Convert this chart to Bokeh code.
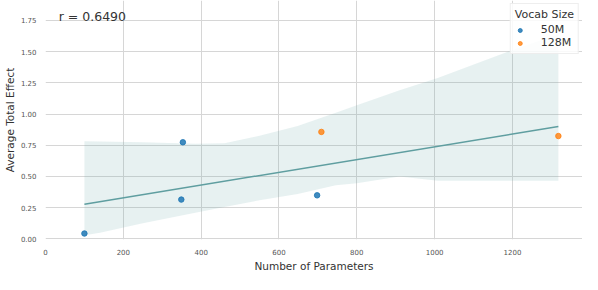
from bokeh.plotting import figure
from bokeh.models import Range1d, FixedTicker, Label, Legend, LegendItem, NumeralTickFormatter
from bokeh.embed import file_html
from bokeh.resources import INLINE
import numpy as np

# ---- data ----
params_50m = [100, 353, 349, 698]
effect_50m = [0.043, 0.774, 0.315, 0.349]
params_128m = [709, 1318]
effect_128m = [0.857, 0.824]

band_x = [100, 140, 250, 385, 460, 550, 648, 746, 800, 910, 1008, 1188, 1318]
band_upper = [0.783, 0.780, 0.775, 0.762, 0.766, 0.826, 0.905, 1.01, 1.07, 1.19, 1.29, 1.50, 1.64]
band_lower = [0.030, 0.050, 0.125, 0.210, 0.255, 0.310, 0.360, 0.430, 0.445, 0.500, 0.465, 0.465, 0.465]

x_ticks = [0, 200, 400, 600, 800, 1000, 1200]
y_ticks = [0.0, 0.25, 0.5, 0.75, 1.0, 1.25, 1.5, 1.75]
r_text = "r = 0.6490"

# regression from the data
all_x = np.array(params_50m + params_128m, dtype=float)
all_y = np.array(effect_50m + effect_128m, dtype=float)
slope, intercept = np.polyfit(all_x, all_y, 1)
line_x = [all_x.min(), all_x.max()]
line_y = [intercept + slope * v for v in line_x]

FONT = "DejaVu Sans"

p = figure(width=582, height=274, output_backend="svg", toolbar_location=None,
           x_range=Range1d(0, 1380), y_range=Range1d(-0.005, 1.91),
           min_border_left=30, min_border_right=0, min_border_top=0, min_border_bottom=21)
p.outline_line_color = None
p.background_fill_color = "white"

for ax in (p.xaxis, p.yaxis):
    ax.axis_line_color = None
    ax.major_tick_line_color = None
    ax.minor_tick_line_color = None
    ax.major_label_text_font = FONT
    ax.major_label_text_font_size = "7px"
    ax.major_label_text_color = "#555555"
    ax.axis_label_text_font = FONT
    ax.axis_label_text_font_size = "10.5px"
    ax.axis_label_text_font_style = "normal"
    ax.axis_label_text_color = "#333333"
    ax.axis_label_standoff = 2
    ax.major_label_standoff = 3

p.xaxis.ticker = FixedTicker(ticks=x_ticks)
p.yaxis.ticker = FixedTicker(ticks=y_ticks)
p.yaxis.formatter = NumeralTickFormatter(format="0.00")
p.xaxis.axis_label = "Number of Parameters"
p.yaxis.axis_label = "Average Total Effect"

p.xgrid.ticker = FixedTicker(ticks=x_ticks)
p.ygrid.ticker = FixedTicker(ticks=y_ticks)
p.grid.grid_line_color = "#d6d6d6"
p.grid.grid_line_width = 1

p.varea(x=band_x, y1=band_lower, y2=band_upper, fill_color="cadetblue", fill_alpha=0.15)
p.line(line_x, line_y, line_color="cadetblue", line_width=1.5)

r1 = p.scatter(params_50m, effect_50m, size=5.5, fill_color="#1f77b4", line_color="#1f77b4",
               fill_alpha=0.85, line_alpha=0.85)
r2 = p.scatter(params_128m, effect_128m, size=5.5, fill_color="#ff7f0e", line_color="#ff7f0e",
               fill_alpha=0.8, line_alpha=0.8)

p.add_layout(Label(x=34, y=1.72, text=r_text, text_font=FONT, text_font_size="12.5px",
                   text_color="#333333", text_baseline="bottom"))

legend = Legend(items=[LegendItem(label="50M", renderers=[r1]),
                       LegendItem(label="128M", renderers=[r2])],
                location="top_right", title="Vocab Size")
legend.title_text_font = FONT
legend.title_text_font_size = "11px"
legend.title_text_font_style = "normal"
legend.title_text_color = "#333333"
legend.title_standoff = 2
legend.label_text_font = FONT
legend.label_text_font_size = "11px"
legend.label_text_color = "#333333"
legend.label_standoff = 16
legend.glyph_width = 10
legend.glyph_height = 12
legend.spacing = 0
legend.padding = 4
legend.margin = 3
legend.border_line_color = "#dddddd"
legend.background_fill_alpha = 0.85
p.add_layout(legend)

open("out.html", "w").write(file_html(p, INLINE))
